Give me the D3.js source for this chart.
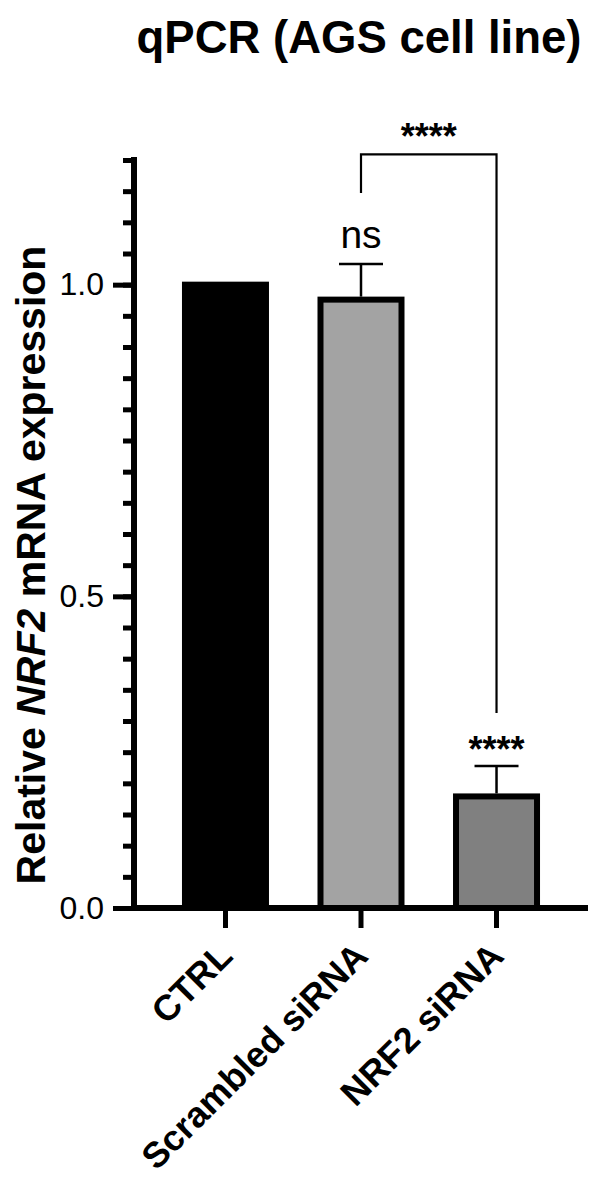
<!DOCTYPE html>
<html>
<head>
<meta charset="utf-8">
<script src="https://cdn.jsdelivr.net/npm/d3@7"></script>
<style>
  body { margin: 0; background: #fff; }
  text { font-family: "Liberation Sans", Arial, sans-serif; }
</style>
</head>
<body>
<svg id="chart" width="590" height="1177"></svg>
<script>
// data
var groups = ["CTRL", "Scrambled siRNA", "NRF2 siRNA"];
var means = [1.0, 0.976, 0.179];
var errs = [0, 0.057, 0.049];
var fills = ["#000000", "#a3a3a3", "#808080"];
var sigLabels = ["", "ns", "****"];
var majorTicks = [0, 0.5, 1.0];
var minorTicks = d3.range(0, 1.2001, 0.05);

var svg = d3.select("#chart");

var y = d3.scaleLinear()
	.domain([0, 1.2])
	.range([908, 160]);

var x = d3.scaleBand()
	.domain(groups)
	.range([134, 588])
	.paddingInner(0.358)
	.paddingOuter(0.354);

var sw = 6; // bar outline width

// title
svg.append("text")
	.attr("x", 359)
	.attr("y", 53)
	.attr("text-anchor", "middle")
	.style("font-size", "45.5px")
	.style("font-weight", "bold")
	.text("qPCR (AGS cell line)");

// bars
svg.append("g").selectAll("rect")
	.data(groups)
	.enter().append("rect")
	.attr("x", function (d) { return x(d) + sw / 2; })
	.attr("width", x.bandwidth() - sw)
	.attr("y", function (d, i) { return y(means[i]); })
	.attr("height", function (d, i) { return y(0) - y(means[i]); })
	.attr("fill", function (d, i) { return fills[i]; })
	.attr("stroke", "#000")
	.attr("stroke-width", sw);

// error bars
var eb = svg.append("g").selectAll("g")
	.data(groups.filter(function (d, i) { return errs[i] > 0; }))
	.enter().append("g");

eb.append("line")
	.attr("x1", function (d) { return x(d) + x.bandwidth() / 2; })
	.attr("x2", function (d) { return x(d) + x.bandwidth() / 2; })
	.attr("y1", function (d) { var i = groups.indexOf(d); return y(means[i]) - sw / 2; })
	.attr("y2", function (d) { var i = groups.indexOf(d); return y(means[i] + errs[i]); })
	.attr("stroke", "#000")
	.attr("stroke-width", 2.5);

eb.append("line")
	.attr("x1", function (d) { return x(d) + x.bandwidth() / 2 - 22; })
	.attr("x2", function (d) { return x(d) + x.bandwidth() / 2 + 22; })
	.attr("y1", function (d) { var i = groups.indexOf(d); return y(means[i] + errs[i]); })
	.attr("y2", function (d) { var i = groups.indexOf(d); return y(means[i] + errs[i]); })
	.attr("stroke", "#000")
	.attr("stroke-width", 2.5);

// significance over each bar
svg.append("g").selectAll("text")
	.data(groups)
	.enter().append("text")
	.attr("x", function (d) { return x(d) + x.bandwidth() / 2; })
	.attr("y", function (d, i) { return y(means[i] + errs[i]) - (sigLabels[i] == "ns" ? 16 : 4); })
	.attr("text-anchor", "middle")
	.style("font-size", function (d, i) { return sigLabels[i] == "ns" ? "39px" : "36px"; })
	.style("font-weight", function (d, i) { return sigLabels[i] == "ns" ? "normal" : "bold"; })
	.text(function (d, i) { return sigLabels[i]; });

// comparison bracket Scrambled vs NRF2
var bx1 = x(groups[1]) + x.bandwidth() / 2;
var bx2 = x(groups[2]) + x.bandwidth() / 2;
var bTop = 1.209, bLeft = 1.147, bRight = 0.313;
svg.append("path")
	.attr("d", "M" + bx1 + "," + y(bLeft) + "V" + y(bTop) + "H" + bx2 + "V" + y(bRight))
	.attr("fill", "none")
	.attr("stroke", "#000")
	.attr("stroke-width", 2.2);

svg.append("text")
	.attr("x", (bx1 + bx2) / 2)
	.attr("y", y(bTop) - 5)
	.attr("text-anchor", "middle")
	.style("font-size", "36px")
	.style("font-weight", "bold")
	.text("****");

// y axis
var yMinor = svg.append("g")
	.attr("transform", "translate(134,0)")
	.call(d3.axisLeft(y).tickValues(minorTicks).tickSize(11).tickSizeOuter(0).tickFormat(""));
var yMajor = svg.append("g")
	.attr("transform", "translate(134,0)")
	.call(d3.axisLeft(y).tickValues(majorTicks).tickSize(21).tickSizeOuter(0).tickPadding(9).tickFormat(d3.format(".1f")));

[yMinor, yMajor].forEach(function (g) {
	g.select(".domain").attr("stroke-width", 6).attr("d", "M0," + (y(1.2) - 3) + "V" + (y(0) + 3));
	g.selectAll(".tick line").attr("stroke-width", 5);
});
yMajor.selectAll(".tick text")
	.style("font-size", "32px")
	.attr("fill", "#000");

// x axis
var xAxis = svg.append("g")
	.attr("transform", "translate(0," + y(0) + ")")
	.call(d3.axisBottom(x).tickSize(20).tickSizeOuter(0));
xAxis.select(".domain").attr("stroke-width", 6).attr("d", "M131,0H588");
xAxis.selectAll(".tick line").attr("stroke-width", 5);
xAxis.selectAll(".tick text")
	.attr("text-anchor", "end")
	.attr("x", 0)
	.attr("y", 0)
	.attr("dy", 0)
	.attr("transform", "translate(9,50) rotate(-45)")
	.style("font-size", "36px")
	.style("font-weight", "bold")
	.attr("fill", "#000");

// y axis title
var yt = svg.append("text")
	.attr("transform", "translate(45," + 565 + ") rotate(-90)")
	.attr("text-anchor", "middle")
	.style("font-size", "41px")
	.style("font-weight", "bold");
yt.append("tspan").text("Relative ");
yt.append("tspan").style("font-style", "italic").text("NRF2");
yt.append("tspan").text(" mRNA expression");
</script>
</body>
</html>
